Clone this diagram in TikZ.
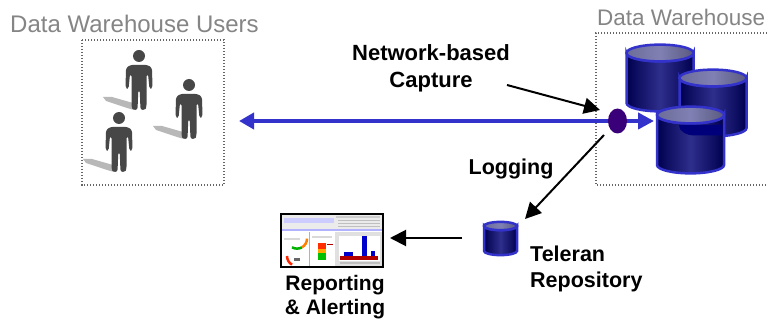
\documentclass[tikz,border=0pt]{standalone}
\usepackage{fontspec}
\setmainfont{Liberation Sans}
\usetikzlibrary{arrows.meta,shapes.geometric}
\definecolor{lnblue}{HTML}{3333CC}
\definecolor{cyldark}{HTML}{000050}
\definecolor{cylmid}{HTML}{2E2E8C}
\definecolor{cyltop}{HTML}{8080B4}
\definecolor{persona}{HTML}{474747}
\definecolor{greytxt}{HTML}{858585}
\definecolor{tapc}{HTML}{3A007A}
\definecolor{cylshade}{HTML}{00007A}
\tikzset{
  x=1pt,y=-1pt,
  dotbox/.style={draw=black!60,line width=1.2pt,dash pattern=on 1.2pt off 1.8pt},
  head/.style={font=\bfseries\fontsize{21.5}{26}\selectfont,align=center,inner sep=0pt,text=black},
  greyl/.style={text=greytxt,inner sep=0pt,anchor=base west},
  blk/.style={draw=black,line width=2pt,-{Triangle[length=16pt,width=16pt]}},
  bluearr/.style={draw=lnblue,line width=4.5pt},
  pics/cyl/.style n args={3}{code={
    \path[left color=cyldark,right color=cyldark,middle color=cylmid,draw=lnblue,line width=#3]
      (-#1,0) -- (-#1,#2) arc[start angle=180,end angle=360,x radius=#1,y radius=-0.25*#1] -- (#1,0)
      arc[start angle=0,end angle=180,x radius=#1,y radius=0.25*#1] -- cycle;
    \path[left color=cyltop!85!black,right color=cyltop!70!black,middle color=cyltop,draw=lnblue,line width=#3]
      (0,0) ellipse[x radius=#1,y radius=0.25*#1];
  }},
  pics/person/.style={code={
    \fill[black!28] (-36,41) -- (-27,41) -- (-6,47) -- (-5,54) -- (-12,52) -- (-33,45) -- cycle;
    \fill[persona] (0,0) circle[radius=6];
    \fill[persona,rounded corners=2.5pt] (-9,9) -- (-13,12) -- (-13.5,32) -- (-10.5,33) -- (-9,18) -- (-7.5,18)
      -- (-7.5,51) -- (-6,54) -- (-1.5,54) -- (-.7,34) -- (.7,34) -- (1.5,54) -- (6,54) -- (7.5,51) -- (7.5,18)
      -- (9,18) -- (10.5,33) -- (13.5,32) -- (13,12) -- (9,9) -- cycle;
  }}
}
\begin{document}
\begin{tikzpicture}
\useasboundingbox (0,0) rectangle (767,320);
\fill[white] (0,0) rectangle (767,320);
% titles
\node[greyl,font=\fontsize{24}{28}\selectfont] (tu) at (10,33) {Data Warehouse Users};
\node[greyl,font=\fontsize{22.5}{26}\selectfont] (tw) at (597,26) {Data Warehouse};
% dotted boxes
\draw[dotbox] (82,40) rectangle (224,185);
\draw[dotbox] (767,33) -- (596,33) -- (596,185) -- (767,185);
% people
\pic at (139,56) {person};
\pic at (189,85) {person};
\pic at (119,118) {person};
% cylinders
\pic at (660,53) {cyl={33.5}{50}{2.5pt}};
\pic at (713,78) {cyl={33.5}{50}{2.5pt}};
\pic at (690.5,115) {cyl={33.5}{50}{2.5pt}};
\fill[cylshade] (679,125) -- (722.5,125) -- (722.5,135.5) -- (695,135.5) arc[start angle=90,end angle=180,x radius=16,y radius=10] -- cycle;
\pic at (500.5,226) {cyl={16.5}{25}{2.5pt}};
% main link
\coordinate (lend) at (239,121);
\coordinate (rend) at (654,121);
\draw[bluearr,{Triangle[length=15pt,width=16pt]}-{Triangle[length=16pt,width=16pt]}] (lend) -- (rend);
\node[ellipse,fill=tapc,minimum width=19pt,minimum height=25pt,inner sep=0pt] (tap) at (617.5,121) {};
% labels
\node[head,font=\bfseries\fontsize{22}{27}\selectfont] (net) at (431,68) {Network-based\\Capture};
\node[head] (log) at (511,169) {Logging};
\node[head,align=left,anchor=west] (rep) at (530,269) {Teleran\\Repository};
\node[head,font=\bfseries\fontsize{21}{24}\selectfont] (rpt) at (335,297.5) {Reporting\\\& Alerting};
% screenshot
\node[draw=black,line width=2.5pt,fill=white,minimum width=102pt,minimum height=53pt,inner sep=0pt] (shot) at (332,240.5) {};
\fill[black!8] (282,215) rectangle (382,229);
\fill[blue!20] (284,218) rectangle (334,223);
\fill[black!20] (336,216) rectangle (380,218);
\foreach \yy in {220,223,226} \fill[black!25] (338,\yy) rectangle (380,\yy+1);
\fill[blue!30] (282,229) rectangle (382,231);
\fill[black!12] (335,232) rectangle (382,266);
\fill[white] (339,236) rectangle (380,261);
\fill[black!30] (309,232) rectangle (310,266);
\fill[black!15] (284,238) rectangle (300,240);
\fill[black!15] (312,236) rectangle (332,238);
\fill[red!65!orange] (318,243) rectangle (326,249);
\fill[orange!70!yellow] (318,249) rectangle (326,253);
\fill[green!75!black] (318,253) rectangle (326,260);
\fill[red!70!black] (327,244) rectangle (333,245);
\fill[blue!80!black] (344,252) rectangle (353,260);
\fill[blue!80!black] (362,236) rectangle (367,260);
\fill[blue!80!black] (371,251) rectangle (375,260);
\fill[red!70!black] (340,256) rectangle (378,260);
\fill[black!25] (340,262) rectangle (380,264);
\draw[line width=2.5pt,red!70!orange] (287,256) arc[start angle=180,end angle=120,radius=10];
\draw[line width=2.5pt,green!70!black] (292,247.3) arc[start angle=120,end angle=60,radius=10];
\draw[line width=2.5pt,orange] (302,247.3) arc[start angle=60,end angle=0,radius=10];
\fill[black!60] (294,258) rectangle (300,261);
% connectors
\coordinate (n1) at (507,85);
\coordinate (n2) at (600,110);
\coordinate (l1) at (604,135);
\coordinate (l2) at (525,219);
\coordinate (r1) at (462,238);
\coordinate (r2) at (390,238);
\draw[blk] (n1) -- (n2);
\draw[blk] (l1) -- (l2);
\draw[blk] (r1) -- (r2);
\end{tikzpicture}
\end{document}
